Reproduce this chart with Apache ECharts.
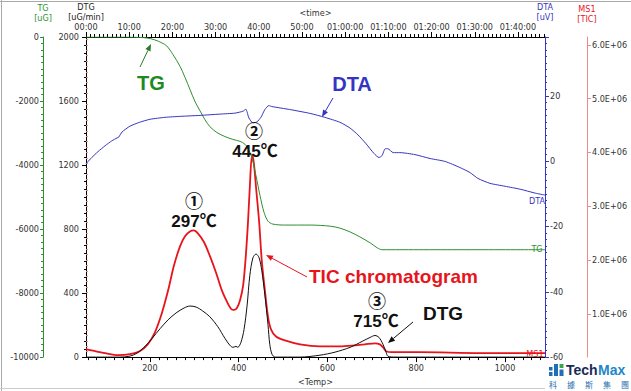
<!DOCTYPE html>
<html><head><meta charset="utf-8">
<script src="https://cdn.jsdelivr.net/npm/echarts@6/dist/echarts.min.js"></script>
<style>html,body{margin:0;padding:0;background:#fff}#c{width:631px;height:391px}</style>
</head><body><div id="c"></div>
<script>
// ---- data (x = temperature in °C) ----
const tgTemp = [56,100,132,160,193,211,227,238,252,268,279,290,301,313,324,335,351,369,387,403,414,423,430,439,448,457,466,477,504,561,606,628,651,673,696,712,723,763,1090];
const tgVal  = [0,0,0,-5,-30,-90,-185,-280,-550,-920,-1260,-1630,-2000,-2310,-2585,-2800,-2985,-3110,-3200,-3260,-3350,-3540,-3785,-4340,-4955,-5475,-5755,-5845,-5875,-5875,-5910,-5970,-6090,-6245,-6430,-6585,-6645,-6645,-6645];

const dtaTemp = [56,69,83,99,114,126,130,137,155,177,200,234,268,313,358,392,410,416,419,423,432,441,450,459,468,475,515,561,594,628,651,669,687,705,716,723,730,736,748,763,797,831,865,899,921,939,966,1000,1034,1068,1090];
const dtaVal  = [-0.8,1.1,2.9,4.7,6.2,7.1,7.4,8.9,10.7,11.9,12.8,13.4,13.7,14.0,14.4,14.7,15.3,15.9,15.0,13.2,11.7,12.0,13.4,15.8,17.0,16.7,15.8,14.6,13.4,11.9,10.1,8.0,5.3,2.3,1.1,1.7,3.8,3.8,2.6,2.6,2.0,0.8,-0.1,-2.0,-3.5,-5.3,-6.8,-7.7,-8.6,-9.8,-10.4];

const dtgTemp = [56,132,155,171,189,205,223,241,259,277,290,304,319,335,353,369,380,387,394,398,405,412,419,425,432,439,446,452,459,466,470,475,482,538,583,617,651,678,696,707,716,725,732,736,752,1090];
const dtgVal  = [0,0,6,25,67,117,178,233,276,307,319,313,288,252,190,117,74,61,67,61,92,172,325,509,620,644,620,540,387,202,80,18,0,0,12,31,61,98,123,135,123,80,31,6,0,0];

const msTemp = [56,76,99,128,155,177,195,211,227,241,254,268,279,290,299,308,322,335,349,362,374,383,389,396,403,410,416,421,425,430,434,439,446,452,459,466,473,484,504,538,583,628,662,684,707,718,725,732,745,808,944,1090];
const msVal  = [343000,307000,270000,234000,252000,307000,434000,653000,1018000,1438000,1894000,2259000,2442000,2533000,2551000,2496000,2332000,2077000,1766000,1438000,1219000,1091000,1073000,1109000,1255000,1529000,2077000,2715000,3354000,3956000,3810000,3354000,2715000,1985000,1438000,945000,708000,580000,507000,434000,398000,398000,416000,434000,453000,434000,380000,307000,288000,288000,270000,270000];

// tick values / labels
const tempMajor = [200,400,600,800,1000];
const tempMinor = []; for (let t = 60; t <= 1080; t += 20) tempMinor.push(t);
const timeMajor = [0,10,20,30,40,50,60,70,80,90,100];
const timeLabels = ['00:00','10:00','20:00','30:00','40:00','50:00','01:00:00','01:10:00','01:20:00','01:30:00','01:40:00'];
const timeMinor = []; for (let m = 0; m <= 106; m++) timeMinor.push(m);
const msMajor = [1e6,2e6,3e6,4e6,5e6,6e6];
const msLabels = ['1.0E+06','2.0E+06','3.0E+06','4.0E+06','5.0E+06','6.0E+06'];
const msMinor = []; for (let k = 3; k <= 61; k++) msMinor.push(k*1e5);

const zip = (a,b) => a.map((v,i)=>[v,b[i]]);
const F = "'Liberation Sans Narrow','DejaVu Sans Condensed','Liberation Sans',sans-serif";
const lab = {color:'#333', fontSize:9, fontFamily:F};
const plain = v => String(Math.round(v));
const GREEN = '#2f8f2f', BLUE = '#3535c0', RED = '#e8141c', PINK = '#f08a8a';

function arrow(x1,y1,x2,y2,color){
  const dx=x2-x1, dy=y2-y1, L=Math.hypot(dx,dy), ux=dx/L, uy=dy/L, hl=7, hw=2.8;
  const bx=x2-ux*hl, by=y2-uy*hl;
  return [
    {type:'line', z:100, shape:{x1:x1,y1:y1,x2:bx,y2:by}, style:{stroke:color,lineWidth:1}},
    {type:'polygon', z:100, shape:{points:[[x2,y2],[bx-uy*hw,by+ux*hw],[bx+uy*hw,by-ux*hw]]}, style:{fill:color}}
  ];
}
function txt(x,y,s,color,font,align){
  return {type:'text', z:100, x:x, y:y, style:{text:s, fill:color, font:font, align:align||'center', verticalAlign:'middle'}};
}
const BIG = "bold 20px 'Liberation Sans','Noto Sans CJK JP',sans-serif";
const TMP = "bold 17px 'Liberation Sans','Noto Sans CJK JP',sans-serif";
const CIR = "bold 18px 'Noto Sans CJK JP',sans-serif";
const SM = "9px " + F;
const CJ = "8px 'Noto Sans CJK TC',sans-serif";

const graphics = [
  {type:'line', z:1, shape:{x1:0,y1:1.5,x2:631,y2:1.5}, style:{stroke:'#aaa',lineWidth:1}},
  {type:'line', z:1, shape:{x1:1.5,y1:0,x2:1.5,y2:391}, style:{stroke:'#aaa',lineWidth:1}},
  {type:'line', z:1, shape:{x1:0,y1:388.5,x2:545,y2:388.5}, style:{stroke:'#ccc',lineWidth:1}},
  txt(151,83,'TG','#1e8a1e',BIG),
  ...arrow(140,67,151,44,'#2a7a2a'),
  txt(352,84,'DTA','#3535c5',BIG),
  ...arrow(333,98,322,117,BLUE),
  txt(254,130,'②','#111',CIR),
  txt(255,151,'445℃','#111',TMP),
  txt(194,200,'①','#111',CIR),
  txt(194,221,'297℃','#111',TMP),
  txt(377,300,'③','#111',CIR),
  txt(376,321,'715℃','#111',TMP),
  txt(309,276,'TIC chromatogram',RED,"bold 19px 'Liberation Sans',sans-serif",'left'),
  ...arrow(307,277,266,255,RED),
  txt(423,313,'DTG','#111',"bold 19px 'Liberation Sans',sans-serif",'left'),
  ...arrow(413,322,388,343,'#111'),
  txt(537,201,'DTA',BLUE,SM),
  txt(537,249,'TG',GREEN,SM),
  txt(535,354,'MS1',RED,SM),
  // logo
  {type:'rect', z:100, shape:{x:549,y:367,width:3.5,height:3.5}, style:{fill:'#1d6fb8'}},
  {type:'rect', z:100, shape:{x:549,y:372,width:3.5,height:4}, style:{fill:'#1d6fb8'}},
  {type:'rect', z:100, shape:{x:554,y:364,width:4,height:12}, style:{fill:'#1d6fb8'}},
  {type:'rect', z:100, shape:{x:559.5,y:364,width:4,height:4}, style:{fill:'#3aa64a'}},
  {type:'rect', z:100, shape:{x:559.5,y:369.5,width:4,height:6.5}, style:{fill:'#1d6fb8'}},
  txt(566,370,'Tech','#1b2a55',"bold 14px 'Liberation Sans',sans-serif",'left'),
  txt(598,370,'Max','#2386c8',"bold 14px 'Liberation Sans',sans-serif",'left'),
  txt(553,384,'科','#2a6fb0',CJ),
  txt(571,384,'據','#2a6fb0',CJ),
  txt(589,384,'斯','#2a6fb0',CJ),
  txt(607,384,'集','#2a6fb0',CJ),
  txt(625,384,'團','#2a6fb0',CJ)
];

const chart = echarts.init(document.getElementById('c'), null, {renderer:'svg'});
chart.setOption({
  animation:false,
  backgroundColor:'#fff',
  grid:{left:86,right:86,top:37,bottom:28,containLabel:false},
  xAxis:[
    {type:'value', position:'bottom', min:56, max:1090,
     axisLine:{show:true,onZero:false,lineStyle:{color:'#000',width:1}},
     axisTick:{show:true,length:5,customValues:tempMajor,lineStyle:{color:'#000'}},
     axisLabel:Object.assign({customValues:tempMajor,margin:6,formatter:plain},lab),
     splitLine:{show:false},
     name:'<Temp>', nameLocation:'middle', nameGap:17, nameTextStyle:lab},
    {type:'value', position:'top', min:0, max:106.25,
     axisLine:{show:true,onZero:false,lineStyle:{color:'#000',width:1}},
     axisTick:{show:true,length:5,customValues:timeMajor,lineStyle:{color:'#000'}},
     axisLabel:Object.assign({customValues:timeMajor,margin:6,formatter:v=>timeLabels[timeMajor.indexOf(Math.round(v))]||''},lab),
     splitLine:{show:false},
     name:'<time>', nameLocation:'middle', nameGap:20, nameTextStyle:lab},
    {type:'value', position:'bottom', min:56, max:1090,
     axisLine:{show:false}, axisTick:{show:true,length:3,customValues:tempMinor,lineStyle:{color:'#000'}},
     axisLabel:{show:false}, splitLine:{show:false}},
    {type:'value', position:'top', min:0, max:106.25,
     axisLine:{show:false}, axisTick:{show:true,length:3,customValues:timeMinor,lineStyle:{color:'#000'}},
     axisLabel:{show:false}, splitLine:{show:false}}
  ],
  yAxis:[
    {type:'value', position:'left', offset:0, min:0, max:2000, interval:400,
     axisLine:{show:true,onZero:false,lineStyle:{color:'#000'}},
     axisTick:{show:true,length:4,lineStyle:{color:'#000'}},
     minorTick:{show:true,splitNumber:8,length:2,lineStyle:{color:'#000'}},
     axisLabel:Object.assign({margin:7,formatter:plain},lab), splitLine:{show:false}, minorSplitLine:{show:false},
     name:'DTG\n[uG/min]', nameLocation:'end', nameGap:14, nameTextStyle:Object.assign({lineHeight:10},lab,{color:'#222'})},
    {type:'value', position:'left', offset:43, min:-10000, max:0, interval:2000,
     axisLine:{show:true,onZero:false,lineStyle:{color:GREEN}},
     axisTick:{show:true,length:3,lineStyle:{color:GREEN}},
     minorTick:{show:true,splitNumber:10,length:2,lineStyle:{color:GREEN}},
     axisLabel:Object.assign({margin:4,formatter:plain},lab), splitLine:{show:false},
     name:'TG\n[uG]', nameLocation:'end', nameGap:14, nameTextStyle:Object.assign({lineHeight:10},lab,{color:GREEN})},
    {type:'value', position:'right', offset:0, min:-60, max:38, interval:20,
     axisLine:{show:true,onZero:false,lineStyle:{color:BLUE}},
     axisTick:{show:true,length:4,lineStyle:{color:BLUE}},
     minorTick:{show:true,splitNumber:10,length:2,lineStyle:{color:BLUE}},
     axisLabel:Object.assign({margin:5,showMaxLabel:false,formatter:plain},lab), splitLine:{show:false},
     name:'DTA\n[uV]', nameLocation:'end', nameGap:13, nameTextStyle:Object.assign({lineHeight:10},lab,{color:BLUE})},
    {type:'value', position:'right', offset:42, min:197000, max:6146000,
     axisLine:{show:true,onZero:false,lineStyle:{color:PINK}},
     axisTick:{show:true,length:4,customValues:msMajor,lineStyle:{color:PINK}},
     axisLabel:Object.assign({margin:5,customValues:msMajor,formatter:v=>msLabels[msMajor.indexOf(Math.round(v))]||''},lab),
     splitLine:{show:false},
     name:'MS1\n[TIC]', nameLocation:'end', nameGap:13, nameTextStyle:Object.assign({lineHeight:10},lab,{color:RED})},
    {type:'value', position:'right', offset:42, min:197000, max:6146000,
     axisLine:{show:false}, axisTick:{show:true,length:2,customValues:msMinor,lineStyle:{color:PINK}},
     axisLabel:{show:false}, splitLine:{show:false}}
  ],
  series:[
    {name:'MS1', type:'line', xAxisIndex:0, yAxisIndex:3, data:zip(msTemp,msVal), showSymbol:false, smooth:0.3,
     lineStyle:{color:RED,width:1.8}, z:2},
    {name:'DTG', type:'line', xAxisIndex:0, yAxisIndex:0, data:zip(dtgTemp,dtgVal), showSymbol:false, smooth:0.3,
     lineStyle:{color:'#111',width:1}, z:3},
    {name:'TG', type:'line', xAxisIndex:0, yAxisIndex:1, data:zip(tgTemp,tgVal), showSymbol:false, smooth:0.3,
     lineStyle:{color:GREEN,width:1}, z:3},
    {name:'DTA', type:'line', xAxisIndex:0, yAxisIndex:2, data:zip(dtaTemp,dtaVal), showSymbol:false, smooth:0.2,
     lineStyle:{color:BLUE,width:1}, z:3}
  ],
  graphic:graphics
});
</script></body></html>
